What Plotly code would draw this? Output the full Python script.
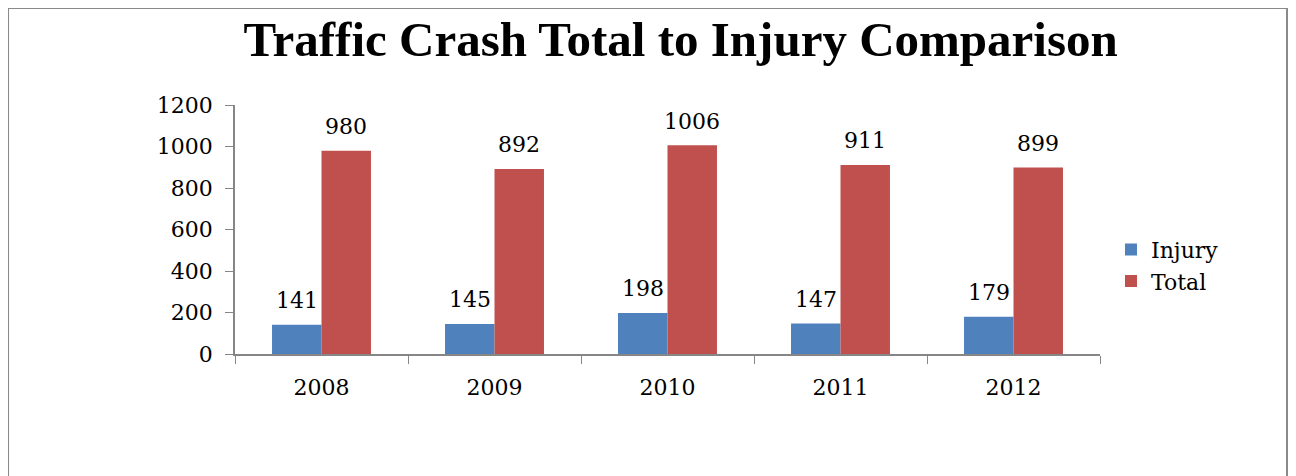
import plotly.graph_objects as go

years = ["2008", "2009", "2010", "2011", "2012"]
injury = [141, 145, 198, 147, 179]
total = [980, 892, 1006, 911, 899]
y_ticks = [0, 200, 400, 600, 800, 1000, 1200]

FONT = "DejaVu Serif"
FS = 22
fig = go.Figure()
fig.add_trace(go.Bar(name="Injury", x=years, y=injury, marker_color="#4F81BD",
                     marker_line_width=0))
fig.add_trace(go.Bar(name="Total", x=years, y=total, marker_color="#C0504D",
                     marker_line_width=0))

# data labels above bars (category index on the category axis)
for series, shift in ((injury, -24.75), (total, 24.75)):
    for i, v in enumerate(series):
        fig.add_annotation(x=i, y=v, text=str(v), showarrow=False,
                           xshift=shift, yshift=24, yanchor="middle",
                           font=dict(family=FONT, size=FS, color="black"))

fig.update_layout(
    width=1296, height=476,
    margin=dict(l=227, r=204, t=97, b=130),
    paper_bgcolor="white", plot_bgcolor="white",
    barmode="group", bargap=0.428, bargroupgap=0,
    title=dict(text="<b>Traffic Crash Total to Injury Comparison</b>",
               x=0.519, xanchor="center", xref="container",
               y=0.935, yanchor="middle",
               font=dict(family="Liberation Serif", size=49, color="black")),
    legend=dict(x=1.0127, y=0.355, xanchor="left", yanchor="middle",
                font=dict(family=FONT, size=FS, color="black"),
                itemwidth=30, tracegroupgap=0),
    xaxis=dict(type="category", range=[-0.5, len(years) - 0.5],
               showline=True, linecolor="#868686", linewidth=1.5,
               ticks="outside", ticklen=8, tickcolor="#868686", tickson="boundaries",
               ticklabelstandoff=13, tickangle=0,
               tickfont=dict(family=FONT, size=FS, color="black"), showgrid=False),
    yaxis=dict(range=[0, 1200], tickvals=y_ticks, showline=True, linecolor="#868686",
               linewidth=1.5, ticks="outside", ticklen=8, tickcolor="#868686",
               ticklabelstandoff=8,
               tickfont=dict(family=FONT, size=FS, color="black"), showgrid=False,
               zeroline=False),
    showlegend=True,
)
fig.add_shape(type="rect", xref="paper", yref="paper",
              x0=-0.2624, x1=1.2162, y0=-0.52, y1=1.3896,
              line=dict(color="#8a8a8a", width=2), fillcolor="rgba(0,0,0,0)", layer="below")

fig.write_html("out.html")
